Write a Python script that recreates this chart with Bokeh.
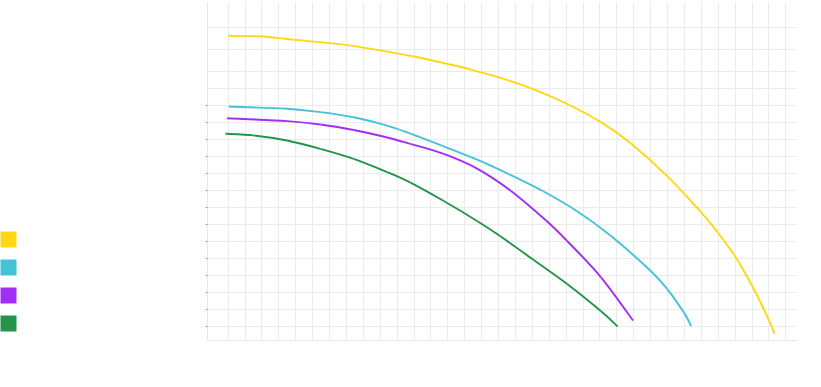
from bokeh.plotting import figure
from bokeh.layouts import row
from bokeh.models import FixedTicker, Grid, Legend, LegendItem, Range1d
from bokeh.embed import file_html
from bokeh.resources import INLINE

# ---- data ----
flow_yellow = [0, 2.01, 3.98, 6.94, 9.01, 10.98, 12.96, 14.34, 16.31, 18.28, 20.25, 22.22, 23.80, 25.98, 27.95, 28.95, 29.96, 31.01, 32.01, 32.33]
head_yellow = [18.10, 18.06, 17.86, 17.57, 17.24, 16.88, 16.45, 16.12, 15.57, 14.88, 14.00, 12.92, 11.79, 9.85, 7.76, 6.56, 5.18, 3.38, 1.35, 0.57]

flow_cyan = [0.04, 3.49, 5.46, 7.43, 9.41, 10.79, 12.76, 14.73, 16.70, 18.67, 20.65, 22.62, 24.99, 25.98, 26.96, 27.40]
head_cyan = [13.94, 13.81, 13.61, 13.31, 12.82, 12.34, 11.59, 10.81, 9.92, 8.94, 7.78, 6.35, 4.28, 3.20, 1.83, 1.03]

flow_purple = [-0.06, 3.49, 5.46, 7.43, 9.41, 10.79, 12.76, 14.73, 16.70, 18.78, 20.06, 22.05, 23.96]
head_purple = [13.25, 13.08, 12.88, 12.56, 12.12, 11.74, 11.15, 10.29, 9.00, 7.26, 6.03, 3.91, 1.35]

flow_green = [-0.16, 1.51, 3.49, 5.46, 7.43, 9.41, 10.79, 12.76, 14.73, 16.11, 18.08, 20.06, 22.05, 23.05]
head_green = [12.34, 12.24, 11.94, 11.45, 10.86, 10.08, 9.46, 8.38, 7.21, 6.31, 4.91, 3.50, 1.91, 1.00]

series_names = ["Pump 1.5 HP", "Pump 1.0 HP", "Pump 0.75 HP", "Pump 0.5 HP"]
series_colors = ["#FFD814", "#45C3D6", "#A22EF5", "#23944A"]

y_ticks = list(range(1, 15))
y_extra_grid = [15, 16, 17.31, 18.61]
x_grid_ticks = list(range(0, 34))
x_label_ticks = list(range(0, 34, 5))


def catmull_rom(xs, ys):
    """Bezier segments of a smooth curve that passes through every data point."""
    n = len(xs)
    x0, y0, x1, y1, cx0, cy0, cx1, cy1 = [], [], [], [], [], [], [], []
    for i in range(n - 1):
        a = max(i - 1, 0)
        d = min(i + 2, n - 1)
        x0.append(xs[i]); y0.append(ys[i])
        x1.append(xs[i + 1]); y1.append(ys[i + 1])
        cx0.append(xs[i] + (xs[i + 1] - xs[a]) / 6.0)
        cy0.append(ys[i] + (ys[i + 1] - ys[a]) / 6.0)
        cx1.append(xs[i + 1] - (xs[d] - xs[i]) / 6.0)
        cy1.append(ys[i + 1] - (ys[d] - ys[i]) / 6.0)
    return dict(x0=x0, y0=y0, x1=x1, y1=y1, cx0=cx0, cy0=cy0, cx1=cx1, cy1=cy1)


# ---- main chart ----
p = figure(width=701, height=387, output_backend="svg", toolbar_location=None,
           x_range=Range1d(-1.22, 33.63), y_range=Range1d(0.176, 20.06),
           min_border_left=87, min_border_right=25, min_border_top=2, min_border_bottom=47,
           background_fill_color="white", border_fill_color="white")
p.outline_line_color = None

grid_col = "#ebebeb"
p.xgrid.ticker = FixedTicker(ticks=x_grid_ticks)
p.xgrid.grid_line_color = grid_col
p.ygrid.ticker = FixedTicker(ticks=y_ticks)
p.ygrid.grid_line_color = grid_col
p.add_layout(Grid(dimension=1, ticker=FixedTicker(ticks=y_extra_grid), grid_line_color=grid_col))

for ax in (p.xaxis[0], p.yaxis[0]):
    ax.axis_line_color = "#e6e6e6"
    ax.major_label_text_color = "white"
    ax.axis_label_text_color = "white"
    ax.major_label_text_font = "Open Sans"
    ax.axis_label_text_font = "Open Sans"
    ax.major_label_text_font_size = "11px"
    ax.axis_label_text_font_size = "12px"
    ax.axis_label_text_font_style = "normal"
    ax.minor_tick_line_color = None

p.xaxis.ticker = FixedTicker(ticks=x_label_ticks)
p.xaxis.major_tick_line_color = None
p.xaxis.axis_label = "Flow (m³/h)"
p.yaxis.ticker = FixedTicker(ticks=y_ticks)
p.yaxis.major_tick_line_color = "#9a9a9a"
p.yaxis.major_tick_out = 2
p.yaxis.major_tick_in = 0
p.yaxis.axis_label = "Head (m)"

flows = [flow_yellow, flow_cyan, flow_purple, flow_green]
heads = [head_yellow, head_cyan, head_purple, head_green]
for col, fx, hy in zip(series_colors, flows, heads):
    p.bezier(source=catmull_rom(fx, hy), x0="x0", y0="y0", x1="x1", y1="y1",
             cx0="cx0", cy0="cy0", cx1="cx1", cy1="cy1",
             line_color=col, line_width=1.9)

# ---- legend panel on the left ----
lg = figure(width=120, height=387, output_backend="svg", toolbar_location=None,
            x_range=Range1d(0, 1), y_range=Range1d(0, 1),
            x_axis_type=None, y_axis_type=None,
            min_border_left=0, min_border_right=0, min_border_top=0, min_border_bottom=0,
            background_fill_color="white", border_fill_color="white")
lg.outline_line_color = None
items = []
for name, col, fx, hy in zip(series_names, series_colors, flows, heads):
    # zero-height area (y1 == y2): nothing is drawn, the legend shows a filled swatch
    sw = lg.varea(x=fx, y1=hy, y2=hy, fill_color=col, fill_alpha=1.0)
    items.append(LegendItem(label=name, renderers=[sw]))
legend = Legend(items=items, location=(-2, 6.7), padding=0, margin=0,
                glyph_width=20, glyph_height=20, label_height=20, spacing=8,
                label_standoff=6, label_text_color="white", label_text_font="Open Sans",
                label_text_font_size="12px", border_line_color=None,
                background_fill_alpha=0)
lg.add_layout(legend)

layout = row(lg, p, spacing=0)
layout.styles = {"position": "absolute", "left": "0px", "top": "0px"}

open("out.html", "w").write(file_html(layout, INLINE))
